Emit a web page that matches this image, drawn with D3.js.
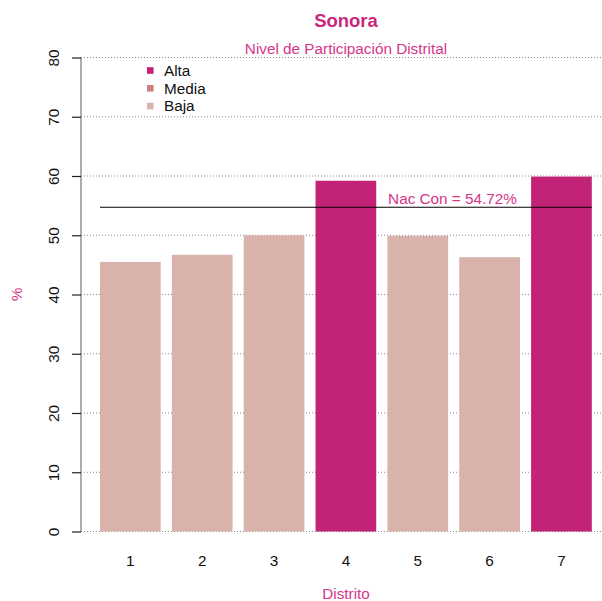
<!DOCTYPE html>
<html>
<head>
<meta charset="utf-8">
<script src="https://cdn.jsdelivr.net/npm/d3@7"></script>
<style>
  body { margin: 0; background: #fff; }
  svg { display: block; font-family: "Liberation Sans", Arial, sans-serif; }
</style>
</head>
<body>
<svg id="chart" width="602" height="601"></svg>
<script>
// District participation, Sonora
const distritos = ["1", "2", "3", "4", "5", "6", "7"];
const participacion = [45.5, 46.7, 50.0, 59.2, 49.9, 46.3, 59.9];
const nivel = ["Baja", "Baja", "Baja", "Alta", "Baja", "Baja", "Alta"];
const yTicks = [0, 10, 20, 30, 40, 50, 60, 70, 80];
const legendNiveles = ["Alta", "Media", "Baja"];
const nacional = 54.72;

const colores = { Alta: "#c32376", Media: "#cc7f7f", Baja: "#d9b3ab" };
const rosa = "#c9277c";
const rosaClaro = "#d6368a";
const fs = 15.3;

const svg = d3.select("#chart");

const y = d3.scaleLinear().domain([0, 80]).range([531.5, 57.5]);
const x = d3.scaleBand().domain(distritos).range([100, 591.8]).paddingInner(0.155).paddingOuter(0);

const axisX = 81;
const centerX = 346;

// dotted horizontal gridlines
svg.append("g").selectAll("line").data(yTicks).join("line")
  .attr("x1", axisX).attr("x2", 602)
  .attr("y1", d => y(d)).attr("y2", d => y(d))
  .attr("stroke", "#888").attr("stroke-width", 1)
  .attr("stroke-dasharray", "1,2");

// bars
svg.append("g").selectAll("rect").data(distritos).join("rect")
  .attr("x", d => x(d))
  .attr("width", x.bandwidth())
  .attr("y", (d, i) => y(participacion[i]))
  .attr("height", (d, i) => y(0) - y(participacion[i]))
  .attr("fill", (d, i) => colores[nivel[i]]);

// y axis with rotated labels
const yAxis = d3.axisLeft(y).tickValues(yTicks).tickSize(9).tickFormat(d3.format("d"));
const gy = svg.append("g").attr("transform", `translate(${axisX},0)`).call(yAxis);
gy.select(".domain").attr("stroke", "#777").attr("stroke-width", 1.2).attr("d", `M0,${y(80)}V${y(0)}`);
gy.selectAll(".tick line").attr("stroke", "#222").attr("stroke-width", 1.2);
gy.selectAll(".tick text")
  .attr("font-size", fs).attr("fill", "#111")
  .attr("text-anchor", "middle")
  .attr("transform", "rotate(-90)")
  .attr("x", 0).attr("y", -27).attr("dy", "0.35em");

// x labels
svg.append("g").selectAll("text").data(distritos).join("text")
  .attr("x", d => x(d) + x.bandwidth() / 2)
  .attr("y", 566)
  .attr("text-anchor", "middle")
  .attr("font-size", fs).attr("fill", "#111")
  .text(d => d);

// national reference line
svg.append("line")
  .attr("x1", x(distritos[0])).attr("x2", x(distritos[6]) + x.bandwidth())
  .attr("y1", y(nacional)).attr("y2", y(nacional))
  .attr("stroke", "#000").attr("stroke-width", 1.1);

svg.append("text")
  .attr("x", 452.5).attr("y", y(nacional) - 3)
  .attr("text-anchor", "middle")
  .attr("font-size", fs).attr("fill", rosaClaro)
  .text(`Nac Con = ${nacional}%`);

// titles
svg.append("text").attr("x", centerX).attr("y", 27)
  .attr("text-anchor", "middle").attr("font-size", 18.5).attr("font-weight", "bold")
  .attr("fill", rosa).text("Sonora");
svg.append("text").attr("x", centerX).attr("y", 54)
  .attr("text-anchor", "middle").attr("font-size", fs)
  .attr("fill", rosaClaro).text("Nivel de Participación Distrital");

svg.append("text").attr("x", centerX).attr("y", 599)
  .attr("text-anchor", "middle").attr("font-size", fs)
  .attr("fill", rosaClaro).text("Distrito");
svg.append("text")
  .attr("transform", `translate(22,294.5) rotate(-90)`)
  .attr("text-anchor", "middle").attr("font-size", fs)
  .attr("fill", rosaClaro).text("%");

// legend
const leg = svg.append("g").selectAll("g").data(legendNiveles).join("g")
  .attr("transform", (d, i) => `translate(147,${70.5 + i * 17.8})`);
leg.append("rect").attr("x", 0).attr("y", -3.3).attr("width", 6.6).attr("height", 6.6)
  .attr("fill", d => colores[d]);
leg.append("text").attr("x", 17).attr("y", 0).attr("dy", "0.35em")
  .attr("font-size", fs).attr("fill", "#111").text(d => d);
</script>
</body>
</html>
